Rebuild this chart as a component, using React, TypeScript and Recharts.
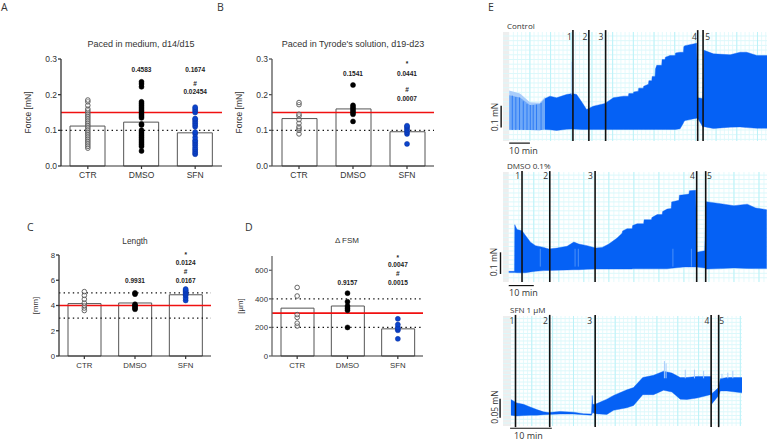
import React from "react";
import {
  Area,
  AreaChart,
  Bar,
  ComposedChart,
  Label,
  ReferenceArea,
  ReferenceDot,
  ReferenceLine,
  Scatter,
  XAxis,
  YAxis,
} from "recharts";

const groups = ["CTR", "DMSO", "SFN"];
const SANS = "'Liberation Sans', Arial, sans-serif";
const NOTE = "'Open Sans', sans-serif";

// panel A
const forceMediumMeans = [0.112, 0.123, 0.093];
const forceMediumCtr = [0.05, 0.055, 0.06, 0.065, 0.07, 0.075, 0.08, 0.085, 0.09, 0.095, 0.1, 0.105, 0.11, 0.115, 0.12, 0.125, 0.13, 0.135, 0.14, 0.145, 0.15, 0.155, 0.16, 0.17, 0.18, 0.185];
const forceMediumDmso = [0.042, 0.055, 0.06, 0.065, 0.07, 0.075, 0.08, 0.085, 0.09, 0.095, 0.1, 0.115, 0.118, 0.135, 0.14, 0.145, 0.15, 0.155, 0.16, 0.165, 0.17, 0.175, 0.18, 0.222, 0.23, 0.236];
const forceMediumSfn = [0.033, 0.037, 0.042, 0.047, 0.052, 0.058, 0.063, 0.068, 0.072, 0.08, 0.09, 0.095, 0.11, 0.115, 0.12, 0.125, 0.13, 0.133, 0.15, 0.155, 0.16, 0.165];

// panel B
const forceTyrodeMeans = [0.133, 0.16, 0.096];
const forceTyrodeCtr = [0.09, 0.1, 0.105, 0.11, 0.12, 0.13, 0.14, 0.145, 0.172, 0.178];
const forceTyrodeDmso = [0.125, 0.145, 0.15, 0.155, 0.16, 0.165, 0.17, 0.227];
const forceTyrodeSfn = [0.062, 0.09, 0.095, 0.1, 0.105, 0.11, 0.113];

// panel C
const lengthMeans = [4.15, 4.2, 4.85];
const lengthCtr = [3.6, 3.8, 4.0, 4.2, 4.5, 4.8, 5.1];
const lengthDmso = [3.7, 3.8, 3.9, 4.0, 4.1, 4.9, 5.0];
const lengthSfn = [4.4, 4.6, 4.8, 4.9, 5.0, 5.1, 5.2, 5.3];

// panel D
const fsmMeans = [335, 350, 190];
const fsmCtr = [210, 230, 270, 290, 420, 480];
const fsmDmso = [200, 320, 335, 350, 380, 440];
const fsmSfn = [120, 180, 190, 200, 220, 260];

// p value labels: [group index, y value, text]
const forceMediumNotes: [number, number, string][] = [[1, 0.269, "0.4583"], [2, 0.269, "0.1674"], [2, 0.232, "#"], [2, 0.208, "0.02454"]];
const forceTyrodeNotes: [number, number, string][] = [[1, 0.259, "0.1541"], [2, 0.286, "*"], [2, 0.259, "0.0441"], [2, 0.213, "#"], [2, 0.19, "0.0007"]];
const lengthNotes: [number, number, string][] = [[1, 6.0, "0.9931"], [2, 8.05, "*"], [2, 7.4, "0.0124"], [2, 6.7, "#"], [2, 6.0, "0.0167"]];
const fsmNotes: [number, number, string][] = [[1, 516, "0.9157"], [2, 690, "*"], [2, 637, "0.0047"], [2, 574, "#"], [2, 516, "0.0015"]];

// traces (minutes, mN)
const controlTime = [17.3, 19.7, 22.9, 27.7, 30.5, 32.6, 35, 37.4, 40.6, 46.3, 50.3, 55.2, 57.6, 57.8, 60, 60.2, 62.4, 62.6, 64.8, 65, 67.3, 67.5, 68.9, 69.1, 70.5, 70.7, 71.3, 73.7, 73.9, 75.3, 75.5, 77.7, 80.2, 80.4, 82.6, 84.2, 84.4, 85, 90.6, 91.1, 93.5, 94.2, 98.7, 106.8, 111.6, 114.8, 119.7, 124.6];
const controlHigh = [0.134, 0.144, 0.137, 0.151, 0.155, 0.151, 0.12, 0.087, 0.101, 0.113, 0.137, 0.144, 0.144, 0.155, 0.155, 0.162, 0.165, 0.178, 0.178, 0.186, 0.195, 0.21, 0.21, 0.228, 0.228, 0.26, 0.275, 0.275, 0.3, 0.3, 0.31, 0.317, 0.317, 0.328, 0.331, 0.331, 0.355, 0.359, 0.369, 0.137, 0.134, 0.339, 0.324, 0.32, 0.331, 0.331, 0.317, 0.317];
const controlLow = [0.002, 0.001, -0.002, 0.003, 0.004, 0.003, 0.002, 0.002, 0.002, 0.002, 0.002, 0.002, 0.002, 0.002, 0.002, 0.002, 0.002, 0.002, 0.002, 0.002, 0.002, 0.002, 0.002, 0.002, 0.002, 0.002, 0.002, 0.002, 0.002, 0.002, 0.002, 0.002, 0.002, 0.002, 0.005, 0.03, 0.035, 0.04, 0.05, 0.05, 0.014, 0.014, 0.006, 0.012, 0.013, 0.01, 0.007, 0.007];
const controlEarlyTime = [0, 5.2, 10, 14.8, 17.3];
const controlEarlyHigh = [0.148, 0.138, 0.106, 0.11, 0.134];
const controlEarlyFade = [0.168, 0.155, 0.118, 0.116, 0.14];
const controlEarlyLow = [0.001, 0.001, 0, -0.001, 0.002];
const controlStripeTime = [1.5, 3.2, 5, 6.8, 8.6, 10.2, 11.6, 13.2, 15.4];
const controlStripeTop = [0.146, 0.14, 0.138, 0.122, 0.11, 0.106, 0.106, 0.108, 0.115];
const controlMarks = [30.8, 38.5, 46.6, 91.1, 93.7];

const dmsoTime = [0, 2.3, 2.4, 3.3, 5.3, 6.7, 8.7, 10.7, 14, 16, 19.3, 23.3, 26, 28, 31.3, 34.7, 37.3, 40, 43.3, 45.3, 45.5, 47.3, 49.3, 49.5, 51.3, 53.9, 54.1, 57, 57.2, 59.3, 61.3, 61.5, 63.3, 64.9, 65.1, 68, 68.2, 70, 72, 72.2, 74.7, 75.1, 78.3, 78.9, 84.7, 90, 95.3, 98.7, 103.1];
const dmsoHigh = [0.009, 0.009, 0.218, 0.196, 0.191, 0.169, 0.139, 0.124, 0.116, 0.109, 0.113, 0.121, 0.14, 0.131, 0.124, 0.113, 0.116, 0.131, 0.158, 0.18, 0.19, 0.2, 0.2, 0.214, 0.222, 0.222, 0.24, 0.24, 0.25, 0.263, 0.263, 0.277, 0.288, 0.29, 0.32, 0.327, 0.35, 0.352, 0.355, 0.37, 0.372, 0.094, 0.101, 0.321, 0.312, 0.303, 0.31, 0.293, 0.285];
const dmsoLow = [0.004, 0.004, 0.004, 0.003, 0.002, 0.003, 0.006, 0.009, 0.012, 0.013, 0.014, 0.015, 0.016, 0.016, 0.018, 0.019, 0.019, 0.019, 0.019, 0.019, 0.019, 0.019, 0.019, 0.02, 0.02, 0.02, 0.02, 0.02, 0.02, 0.02, 0.02, 0.02, 0.02, 0.023, 0.023, 0.026, 0.026, 0.028, 0.028, 0.028, 0.028, 0.028, 0.024, 0.019, 0.021, 0.024, 0.022, 0.021, 0.021];
const dmsoMarks = [5.3, 16.4, 34.5, 75.1, 78.7];
const dmsoStreaks = [12.6, 26.5, 27.8, 65.6, 73];

const sfnTime = [0, 1.4, 3, 4.6, 6.2, 7.8, 9, 11.8, 15, 17.4, 19.3, 19.5, 19.6, 20.2, 23, 24.6, 27.8, 29.4, 31.6, 34.2, 36.6, 38.6, 40.6, 42.2, 44.6, 47.8, 48, 48.2, 49.8, 50.2, 51.8, 55.4];
const sfnHigh = [0.053, 0.044, 0.04, 0.033, 0.026, 0.02, 0.018, 0.021, 0.019, 0.015, 0.014, 0.064, 0.04, 0.04, 0.054, 0.064, 0.079, 0.085, 0.112, 0.118, 0.129, 0.124, 0.112, 0.112, 0.115, 0.115, 0.115, 0.069, 0.085, 0.109, 0.112, 0.112];
const sfnLow = [0.011, 0.009, 0.01, 0.011, 0.011, 0.0125, 0.013, 0.014, 0.014, 0.0125, 0.011, 0.015, 0.018, 0.015, 0.013, 0.024, 0.031, 0.037, 0.066, 0.066, 0.078, 0.073, 0.054, 0.053, 0.057, 0.066, 0.066, 0.042, 0.064, 0.076, 0.076, 0.071];
const sfnMarks = [1.1, 9.3, 20.2, 48, 49.8];
const sfnSpikeTime = [36.8, 37.2, 41.8, 44, 46.2, 50.6, 52, 53.2];
const sfnSpikeTop = [0.156, 0.15, 0.133, 0.133, 0.13, 0.122, 0.125, 0.13];

const toBars = (means: number[]) => means.map((value, x) => ({ x, value }));
const toDots = (index: number, values: number[]) => values.map((y) => ({ x: index, y }));
const toBand = (t: number[], low: number[], high: number[]) =>
  t.map((time, i) => ({ time, band: [low[i], high[i]] }));
// paper grid of the recorder trace, not data
const gridLines = (from: number, to: number, step: number) => {
  const out: number[] = [];
  for (let v = from; v <= to + 1e-9; v += step) out.push(Number(v.toFixed(4)));
  return out;
};

const Text = ({ x, y, size = 8, font = NOTE, rotate, center, bold, color = "#333", children }: any) => (
  <div
    style={{
      position: "absolute",
      left: x,
      top: y,
      fontFamily: font,
      fontSize: size,
      fontWeight: bold ? 700 : 400,
      color,
      lineHeight: 1,
      whiteSpace: "nowrap",
      transform: `${center ? "translate(-50%, -50%)" : "translateY(-50%)"}${rotate ? ` rotate(${rotate}deg)` : ""}`,
    }}
  >
    {children}
  </div>
);

const FilledDot = (color: string) => (p: any) => (
  <circle cx={p.cx} cy={p.cy} r={2.5} fill={color} stroke={color === "#0a44cc" ? "#0a2f9c" : color} strokeWidth={0.5} />
);
const OpenDot = (p: any) => <circle cx={p.cx} cy={p.cy} r={2.3} fill="#fff" fillOpacity={0.4} stroke="#555" strokeWidth={0.9} />;

interface BarPanelProps {
  left: number;
  right: number;
  top: number;
  bottom: number;
  means: number[];
  ctr: number[];
  dmso: number[];
  sfn: number[];
  notes: [number, number, string][];
  domain: [number, number];
  ticks: number[];
  tickFormat?: (v: number) => string;
  fontSize: number;
  unit: string;
  unitOffset: number;
  red: number;
  dotted: number[];
  axisColor?: string;
  barWidth: number;
}

const BarPanel = ({ left, right, top, bottom, means, ctr, dmso, sfn, notes, domain, ticks, tickFormat, fontSize, unit, unitOffset, red, dotted, axisColor = "#333", barWidth }: BarPanelProps) => (
  <div style={{ position: "absolute", left: left - 40, top: top - 10 }}>
    <ComposedChart
      width={right - left + 45}
      height={bottom - top + 35}
      data={toBars(means)}
      margin={{ top: 10, right: 5, bottom: 0, left: 0 }}
    >
      <XAxis
        dataKey="x"
        type="number"
        domain={[-0.5, 2.5]}
        ticks={[0, 1, 2]}
        tickFormatter={(v: number) => groups[v]}
        height={25}
        tick={{ fontSize, fill: "#333", fontFamily: SANS }}
        tickSize={3}
        tickMargin={3}
        stroke="#333"
        strokeWidth={1.2}
      />
      <YAxis
        type="number"
        domain={domain}
        ticks={ticks}
        tickFormatter={tickFormat}
        width={40}
        tick={{ fontSize, fill: "#333", fontFamily: SANS }}
        tickSize={3}
        tickMargin={1}
        stroke={axisColor}
        strokeWidth={1.3}
      >
        <Label value={unit} angle={-90} position="insideLeft" offset={unitOffset} style={{ fontSize, fill: "#333", fontFamily: SANS, textAnchor: "middle" }} />
      </YAxis>
      <Bar dataKey="value" barSize={barWidth} fill="#fff" stroke="#555" strokeWidth={1} isAnimationActive={false} />
      {dotted.map((v) => (
        <ReferenceLine key={v} y={v} stroke="#111" strokeWidth={1.2} strokeDasharray="1.4 3.2" />
      ))}
      <ReferenceLine y={red} stroke="#f01010" strokeWidth={1.6} />
      <Scatter data={toDots(0, ctr)} dataKey="y" shape={OpenDot} isAnimationActive={false} />
      <Scatter data={toDots(1, dmso)} dataKey="y" shape={FilledDot("#000")} isAnimationActive={false} />
      <Scatter data={toDots(2, sfn)} dataKey="y" shape={FilledDot("#0a44cc")} isAnimationActive={false} />
      {notes.map(([group, y, text]) => (
        <ReferenceDot
          key={text + y}
          x={group}
          y={y}
          r={0}
          ifOverflow="visible"
          label={{ value: text, position: "center", fontSize: 6.5, fontWeight: 700, fontFamily: SANS, fill: "#222" }}
        />
      ))}
    </ComposedChart>
  </div>
);

interface TraceProps {
  left: number;
  top: number;
  width: number;
  height: number;
  xDomain: [number, number];
  yDomain: [number, number];
  yTicks: number[];
  gridMajor: number[];
  gridMinor: number[];
  gridY: number[];
  data: { time: number; band: number[] }[];
  marks: number[];
  markTop: number;
  markBottom: number;
  tickDigits: number;
  barX: [number, number];
  barY: number;
  sideX: number;
  sideY: [number, number];
  children?: React.ReactNode;
}

const Trace = ({ left, top, width, height, xDomain, yDomain, yTicks, gridMajor, gridMinor, gridY, data, marks, markTop, markBottom, tickDigits, barX, barY, sideX, sideY, children }: TraceProps) => {
  const margin = { top: 5, right: 0, bottom: 13, left: 12 };
  const box = { position: "absolute" as const, left: left - 12, top: top - 5 };
  return (
    <>
      {/* reference lines sit above areas, so the paper grid gets its own chart underneath */}
      <div style={box}>
        <AreaChart width={width + 12} height={height + 18} data={data} margin={margin}>
          <XAxis dataKey="time" type="number" domain={xDomain} hide allowDataOverflow />
          <YAxis type="number" domain={yDomain} hide allowDataOverflow />
          {gridMinor.map((x) => (
            <ReferenceLine key={"m" + x} x={x} stroke="#e4fafc" strokeWidth={1} />
          ))}
          {gridY.map((y) => (
            <ReferenceLine key={"h" + y} y={y} stroke="#dcf8fb" strokeWidth={1} />
          ))}
          {gridMajor.map((x) => (
            <ReferenceLine key={"M" + x} x={x} stroke="#bcf2f8" strokeWidth={1} />
          ))}
          <ReferenceArea x1={xDomain[0]} x2={0} y1={yDomain[0]} y2={yDomain[1]} fill="#eeeeee" fillOpacity={1} stroke="none" />
        </AreaChart>
      </div>
      <div style={box}>
        <AreaChart width={width + 12} height={height + 18} data={data} margin={margin}>
          <XAxis dataKey="time" type="number" domain={xDomain} hide allowDataOverflow />
          <YAxis
            type="number"
            domain={yDomain}
            ticks={yTicks}
            tickFormatter={(v: number) => v.toFixed(tickDigits)}
            mirror
            width={0}
            axisLine={false}
            tickLine={false}
            tick={{ fontSize: 3, fill: "#999", fontFamily: SANS }}
            allowDataOverflow
          />
          <Area dataKey="band" type="linear" fill="#0561f5" fillOpacity={1} stroke="#0561f5" strokeWidth={0.4} dot={false} activeDot={false} isAnimationActive={false} />
          {children}
          {marks.map((m) => (
            <ReferenceLine
              key={m}
              ifOverflow="visible"
              segment={[{ x: m, y: markTop }, { x: m, y: markBottom }]}
              stroke="#111"
              strokeWidth={1.6}
            />
          ))}
          <ReferenceLine ifOverflow="visible" segment={[{ x: barX[0], y: barY }, { x: barX[1], y: barY }]} stroke="#111" strokeWidth={1.2} />
          <ReferenceLine ifOverflow="visible" segment={[{ x: sideX, y: sideY[0] }, { x: sideX, y: sideY[1] }]} stroke="#111" strokeWidth={1.4} />
        </AreaChart>
      </div>
    </>
  );
};

const earlyControl = controlEarlyTime.map((time, i) => ({
  time,
  early: [controlEarlyLow[i], controlEarlyHigh[i]],
  fade: [controlEarlyLow[i], controlEarlyFade[i]],
}));

const controlBand = [
  ...earlyControl.map((d) => ({ time: d.time, early: d.early, fade: d.fade })),
  ...toBand(controlTime, controlLow, controlHigh),
];

const App = () => (
  <div style={{ position: "absolute", left: 0, top: 0, width: 767, height: 440, overflow: "hidden", background: "#fff" }}>
    <Text x={1} y={7} size={10.5}>A</Text>
    <Text x={217} y={7} size={10.5}>B</Text>
    <Text x={27} y={227} size={10.5}>C</Text>
    <Text x={245} y={227} size={10.5}>D</Text>
    <Text x={488} y={7} size={10.5}>E</Text>

    <Text x={141} y={44} size={9} font={SANS} center>Paced in medium, d14/d15</Text>
    <Text x={353} y={44} size={9} font={SANS} center>Paced in Tyrode's solution, d19-d23</Text>
    <Text x={135} y={241} size={8.3} font={SANS} center>Length</Text>
    <Text x={347} y={241} size={8} font={SANS} center>Δ FSM</Text>

    <BarPanel left={61} right={222} top={59} bottom={166} means={forceMediumMeans} ctr={forceMediumCtr} dmso={forceMediumDmso} sfn={forceMediumSfn} notes={forceMediumNotes} domain={[0, 0.3]} ticks={[0, 0.1, 0.2, 0.3]} tickFormat={(v) => v.toFixed(1)} fontSize={8.5} unit="Force [mN]" unitOffset={7} red={0.15} dotted={[0.1]} barWidth={35} />
    <BarPanel left={272} right={434} top={59} bottom={166} means={forceTyrodeMeans} ctr={forceTyrodeCtr} dmso={forceTyrodeDmso} sfn={forceTyrodeSfn} notes={forceTyrodeNotes} domain={[0, 0.3]} ticks={[0, 0.1, 0.2, 0.3]} tickFormat={(v) => v.toFixed(1)} fontSize={8.5} unit="Force [mN]" unitOffset={7} red={0.15} dotted={[0.1]} axisColor="#555" barWidth={35} />
    <BarPanel left={59} right={211} top={255} bottom={356} means={lengthMeans} ctr={lengthCtr} dmso={lengthDmso} sfn={lengthSfn} notes={lengthNotes} domain={[0, 8]} ticks={[0, 2, 4, 6, 8]} fontSize={7.8} unit="[mm]" unitOffset={16} red={4} dotted={[3, 5]} barWidth={33} />
    <BarPanel left={272} right={423} top={256} bottom={356} means={fsmMeans} ctr={fsmCtr} dmso={fsmDmso} sfn={fsmSfn} notes={fsmNotes} domain={[0, 700]} ticks={[0, 200, 400, 600]} fontSize={7.8} unit="[µm]" unitOffset={8} red={300} dotted={[200, 400]} axisColor="#666" barWidth={33} />

    <Text x={507} y={26} size={8}>Control</Text>
    <Trace
      left={503}
      top={32}
      width={264}
      height={109}
      xDomain={[-3, 124.6]}
      yDomain={[-0.047, 0.417]}
      yTicks={[0, 0.1, 0.2, 0.3, 0.4]}
      gridMajor={gridLines(10, 120, 10)}
      gridMinor={gridLines(2, 124, 2)}
      gridY={gridLines(-0.04, 0.4, 0.02)}
      data={controlBand as any}
      marks={controlMarks}
      markTop={0.425}
      markBottom={-0.047}
      tickDigits={1}
      barX={[0, 10]}
      barY={-0.056}
      sideX={-3.9}
      sideY={[0.011, 0.103]}
    >
      <Area dataKey="fade" type="linear" fill="#a9cdfb" fillOpacity={1} stroke="none" dot={false} activeDot={false} isAnimationActive={false} />
      <Area dataKey="early" type="linear" fill="#6ea8f8" fillOpacity={1} stroke="none" dot={false} activeDot={false} isAnimationActive={false} />
      {controlStripeTime.map((t, i) => (
        <ReferenceLine key={t} segment={[{ x: t, y: 0 }, { x: t, y: controlStripeTop[i] }]} stroke="#2f7cf5" strokeWidth={1} />
      ))}
      <ReferenceLine segment={[{ x: 30.3, y: 0.15 }, { x: 30.3, y: 0.29 }]} stroke="#a9cdfb" strokeWidth={1} />
    </Trace>
    {["1", "2", "3", "4", "5"].map((n, i) => (
      <Text key={n} x={480 + [268, 315, 363, 643, 683][i] / 3} y={37} size={8.5} center>{n}</Text>
    ))}
    <Text x={509} y={150} size={9}>10 min</Text>
    <Text x={495} y={117} size={8.5} center rotate={-90}>0.1 mN</Text>

    <Text x={507} y={166} size={8}>DMSO 0.1%</Text>
    <Trace
      left={503}
      top={172}
      width={264}
      height={110}
      xDomain={[-2.3, 103.2]}
      yDomain={[-0.039, 0.454]}
      yTicks={[0, 0.05, 0.1, 0.15, 0.2, 0.25, 0.3, 0.35, 0.4]}
      gridMajor={gridLines(10, 100, 10)}
      gridMinor={gridLines(2, 102, 2)}
      gridY={gridLines(-0.02, 0.44, 0.02)}
      data={toBand(dmsoTime, dmsoLow, dmsoHigh)}
      marks={dmsoMarks}
      markTop={0.458}
      markBottom={-0.039}
      tickDigits={2}
      barX={[0, 10]}
      barY={-0.055}
      sideX={-3.3}
      sideY={[-0.003, 0.094]}
    >
      {dmsoStreaks.map((t) => (
        <ReferenceLine key={t} segment={[{ x: t, y: 0.03 }, { x: t, y: 0.11 }]} stroke="#4b90f8" strokeWidth={1} />
      ))}
    </Trace>
    {["1", "2", "3", "4", "5"].map((n, i) => (
      <Text key={n} x={480 + [113, 197, 331, 637, 688][i] / 3} y={176} size={8.5} center>{n}</Text>
    ))}
    <Text x={509} y={292} size={9}>10 min</Text>
    <Text x={493.5} y={262} size={8.5} center rotate={-90}>0.1 mN</Text>

    <Text x={510} y={310} size={8}>SFN 1 µM</Text>
    <Trace
      left={503}
      top={316}
      width={239}
      height={110}
      xDomain={[-1.9, 55.4]}
      yDomain={[-0.018, 0.277]}
      yTicks={[0, 0.05, 0.1, 0.15, 0.2, 0.25]}
      gridMajor={gridLines(5, 55, 5)}
      gridMinor={gridLines(1, 55, 1)}
      gridY={gridLines(-0.01, 0.27, 0.01)}
      data={toBand(sfnTime, sfnLow, sfnHigh)}
      marks={sfnMarks}
      markTop={0.28}
      markBottom={-0.021}
      tickDigits={2}
      barX={[-0.2, 9.8]}
      barY={-0.024}
      sideX={-2.6}
      sideY={[0.004, 0.055]}
    >
      {sfnSpikeTime.map((t, i) => (
        <ReferenceLine key={t} segment={[{ x: t, y: 0.11 }, { x: t, y: sfnSpikeTop[i] }]} stroke="#a9cdfb" strokeWidth={1} />
      ))}
    </Trace>
    {["1", "2", "3", "4", "5"].map((n, i) => (
      <Text key={n} x={480 + [96, 196, 329, 681, 725][i] / 3} y={320.5} size={8.5} center>{n}</Text>
    ))}
    <Text x={514} y={435} size={9}>10 min</Text>
    <Text x={495} y={407} size={8.5} center rotate={-90}>0.05 mN</Text>
  </div>
);

export default App;
